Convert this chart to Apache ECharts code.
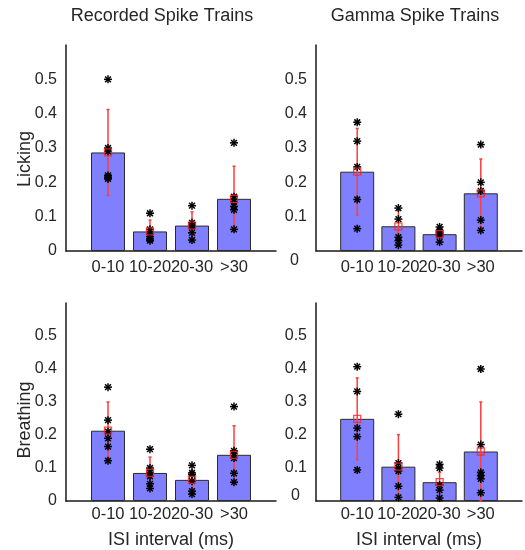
<!DOCTYPE html>
<html><head><meta charset="utf-8">
<script src="https://cdn.jsdelivr.net/npm/echarts@6/dist/echarts.min.js"></script>
<style>html,body{margin:0;padding:0;background:#fff}#c{width:525px;height:550px}</style>
</head><body><div id="c"></div>
<script>
const categories = ['0-10', '10-20', '20-30', '>30'];
const yTickMax = 0.5;
const columnTitles = ['Recorded Spike Trains', 'Gamma Spike Trains'];
const rowLabels = ['Licking', 'Breathing'];
const xAxisTitle = 'ISI interval (ms)';

// Recorded spike trains, licking
const recLickMean = [0.287, 0.057, 0.074, 0.152];
const recLickSd = [0.125, 0.033, 0.040, 0.095];
const recLickPoints = [
  [0.50, 0.30, 0.29, 0.22, 0.215, 0.21],
  [0.11, 0.063, 0.05, 0.042, 0.035, 0.03],
  [0.132, 0.082, 0.075, 0.07, 0.053, 0.032],
  [0.315, 0.158, 0.144, 0.13, 0.12, 0.063]
];
// Gamma spike trains, licking
const gamLickMean = [0.231, 0.072, 0.049, 0.168];
const gamLickSd = [0.126, 0.047, 0.020, 0.100];
const gamLickPoints = [
  [0.375, 0.32, 0.245, 0.15, 0.065],
  [0.125, 0.093, 0.04, 0.03, 0.017],
  [0.07, 0.06, 0.055, 0.05, 0.045, 0.026],
  [0.31, 0.2, 0.175, 0.09, 0.06]
];
// Recorded spike trains, breathing
const recBreathMean = [0.213, 0.085, 0.064, 0.140];
const recBreathSd = [0.087, 0.048, 0.030, 0.088];
const recBreathPoints = [
  [0.345, 0.245, 0.21, 0.19, 0.165, 0.122],
  [0.157, 0.10, 0.087, 0.075, 0.052, 0.038],
  [0.108, 0.085, 0.08, 0.06, 0.03, 0.021],
  [0.286, 0.152, 0.145, 0.13, 0.084, 0.057]
];
// Gamma spike trains, breathing
const gamBreathMean = [0.249, 0.104, 0.057, 0.150];
const gamBreathSd = [0.124, 0.097, 0.030, 0.150];
const gamBreathPoints = [
  [0.407, 0.332, 0.221, 0.195, 0.094],
  [0.263, 0.115, 0.10, 0.091, 0.045, 0.011],
  [0.111, 0.10, 0.048, 0.033, 0.009],
  [0.40, 0.171, 0.087, 0.077, 0.067, 0.025]
];

const panels = [
  {mean: recLickMean, sd: recLickSd, pts: recLickPoints},
  {mean: gamLickMean, sd: gamLickSd, pts: gamLickPoints},
  {mean: recBreathMean, sd: recBreathSd, pts: recBreathPoints},
  {mean: gamBreathMean, sd: gamBreathSd, pts: gamBreathPoints}
];

const FONT = "'Liberation Sans', Arial, sans-serif";
const TXT = '#262626';
const grids = [
  {left: 66, top: 45, width: 210, height: 206},
  {left: 316, top: 45, width: 210, height: 206},
  {left: 66, top: 303, width: 210, height: 205},
  {left: 316, top: 303, width: 210, height: 205}
];
const zeroPad = [null, [20, 8, 0, 0], null, [0, 7, 10, 0]];
const xLabelMargin = [8, 8, 5, 5];

const xAxes = [], yAxes = [], series = [];
panels.forEach((p, k) => {
  xAxes.push({
    gridIndex: k, type: 'value', min: 0, max: 5, interval: 1,
    axisLine: {show: true, lineStyle: {color: '#1a1a1a', width: 1.5}},
    axisTick: {show: false}, splitLine: {show: false},
    axisLabel: {margin: xLabelMargin[k], fontSize: 16.5, fontFamily: FONT, color: TXT,
      formatter: v => categories[v - 1] || ''},
    name: k >= 2 ? xAxisTitle : '', nameLocation: 'middle', nameGap: 30,
    nameTextStyle: {fontSize: 18, fontFamily: FONT, color: TXT}
  });
  const rich = {};
  if (zeroPad[k]) rich.z = {padding: zeroPad[k], fontSize: 16, fontFamily: FONT, color: TXT};
  yAxes.push({
    gridIndex: k, type: 'value', min: 0, max: 0.6, interval: 0.1,
    axisLine: {show: true, lineStyle: {color: '#1a1a1a', width: 1.5}},
    axisTick: {show: false}, splitLine: {show: false},
    axisLabel: {margin: 9, fontSize: 16, fontFamily: FONT, color: TXT, rich: rich,
      formatter: v => v > yTickMax + 0.01 ? '' : (v === 0 ? (zeroPad[k] ? '{z|0}' : '0') : v.toFixed(1))}
  });
  series.push({
    type: 'bar', xAxisIndex: k, yAxisIndex: k, barWidth: 34, z: 2,
    itemStyle: {color: '#8080ff', borderColor: '#2a2a2a', borderWidth: 1},
    data: p.mean.map((m, i) => [i + 1, m]), silent: true
  });
  series.push({
    type: 'custom', xAxisIndex: k, yAxisIndex: k, z: 3,
    data: p.mean.map((m, i) => [i + 1, Math.max(0, m - p.sd[i]), m + p.sd[i]]),
    renderItem: (params, api) => {
      const a = api.coord([api.value(0), api.value(1)]);
      const b = api.coord([api.value(0), api.value(2)]);
      return {type: 'group', children: [
        {type: 'line', shape: {x1: a[0], y1: a[1], x2: b[0], y2: b[1]}, style: {stroke: '#ff3c3c', lineWidth: 1.5}},
        {type: 'line', shape: {x1: b[0] - 1.5, y1: b[1], x2: b[0] + 1.5, y2: b[1]}, style: {stroke: '#ff3c3c', lineWidth: 1.5}},
        {type: 'line', shape: {x1: a[0] - 1.5, y1: a[1], x2: a[0] + 1.5, y2: a[1]}, style: {stroke: '#ff3c3c', lineWidth: 1.5}}
      ]};
    }, silent: true
  });
  const starData = [];
  p.pts.forEach((arr, i) => arr.forEach(v => starData.push([i + 1, v])));
  series.push({
    type: 'custom', xAxisIndex: k, yAxisIndex: k, z: 4, data: starData,
    renderItem: (params, api) => {
      const c = api.coord([api.value(0), api.value(1)]);
      const r = 4, d = r * 0.72;
      const st = {stroke: '#000', lineWidth: 1.5};
      return {type: 'group', children: [
        {type: 'line', shape: {x1: c[0] - r, y1: c[1], x2: c[0] + r, y2: c[1]}, style: st},
        {type: 'line', shape: {x1: c[0], y1: c[1] - r, x2: c[0], y2: c[1] + r}, style: st},
        {type: 'line', shape: {x1: c[0] - d, y1: c[1] - d, x2: c[0] + d, y2: c[1] + d}, style: st},
        {type: 'line', shape: {x1: c[0] - d, y1: c[1] + d, x2: c[0] + d, y2: c[1] - d}, style: st}
      ]};
    }, silent: true
  });
  series.push({
    type: 'scatter', xAxisIndex: k, yAxisIndex: k, z: 5, symbol: 'rect', symbolSize: 7,
    itemStyle: {color: 'rgba(0,0,0,0)', borderColor: '#ff2020', borderWidth: 1.3},
    data: p.mean.map((m, i) => [i + 1, m]), silent: true
  });
});

const graphics = [
  {type: 'text', x: 162, y: 16, style: {text: columnTitles[0], fontSize: 18, fontFamily: FONT, fill: TXT, align: 'center', verticalAlign: 'middle'}},
  {type: 'text', x: 415, y: 16, style: {text: columnTitles[1], fontSize: 18, fontFamily: FONT, fill: TXT, align: 'center', verticalAlign: 'middle'}},
  {type: 'text', x: 25, y: 159, rotation: Math.PI / 2, style: {text: rowLabels[0], fontSize: 18, fontFamily: FONT, fill: TXT, align: 'center', verticalAlign: 'middle'}},
  {type: 'text', x: 25, y: 420, rotation: Math.PI / 2, style: {text: rowLabels[1], fontSize: 18, fontFamily: FONT, fill: TXT, align: 'center', verticalAlign: 'middle'}}
];

const chart = echarts.init(document.getElementById('c'), null, {renderer: 'canvas'});
chart.setOption({
  animation: false,
  backgroundColor: '#fff',
  grid: grids,
  xAxis: xAxes,
  yAxis: yAxes,
  series: series,
  graphic: graphics
});
</script>
</body></html>
